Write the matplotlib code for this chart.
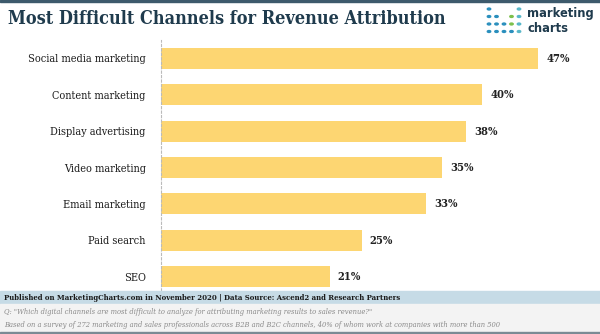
import matplotlib.pyplot as plt
from matplotlib.patches import Rectangle

# data
channels = ['Social media marketing', 'Content marketing', 'Display advertising',
            'Video marketing', 'Email marketing', 'Paid search', 'SEO']
shares = [47, 40, 38, 35, 33, 25, 21]

title_color = '#1f3b4d'
bar_color = '#fdd672'
serif = 'DejaVu Serif'

fig = plt.figure(figsize=(6, 3.34), dpi=100)
W, H = 600, 334

# top border
fig.patches.append(Rectangle((0, 1 - 2 / H), 1, 2 / H, transform=fig.transFigure,
                             color='#3d5a6c', zorder=0))

fig.text(8 / W, 1 - 19 / H, 'Most Difficult Channels for Revenue Attribution',
         fontsize=13, fontweight='bold', family=serif, stretch='condensed',
         color=title_color, va='center', ha='left')

# logo
dot_cols = [['#2a8fbd', None, None, None, '#58b7c9'],
            ['#2a8fbd', '#2a8fbd', None, '#7cc04b', '#58b7c9'],
            ['#2a8fbd', '#2a8fbd', '#2a8fbd', '#7cc04b', '#58b7c9'],
            ['#2a8fbd', '#2a8fbd', '#2a8fbd', '#2a8fbd', '#58b7c9']]
for r, row in enumerate(dot_cols):
    for c, col in enumerate(row):
        if col:
            fig.patches.append(plt.Circle(((489 + c * 7.5) / W, 1 - (9 + r * 7.5) / H), 1.7 / W,
                                          transform=fig.transFigure, color=col))
fig.text(527 / W, 1 - 14 / H, 'marketing', fontsize=8.3, fontweight='bold',
         color=title_color, va='center', ha='left')
fig.text(527 / W, 1 - 28 / H, 'charts', fontsize=8.3, fontweight='bold',
         color=title_color, va='center', ha='left')

# bars
ax = fig.add_axes([161 / W, 1 - 295 / H, 432 / W, (295 - 40) / H])
y = list(range(len(channels)))
ax.barh(y, shares, height=0.58, color=bar_color, zorder=2)
for yi, v in zip(y, shares):
    ax.text(v + 1.0, yi, f'{v}%', va='center', ha='left', fontsize=8,
            fontweight='bold', family=serif, stretch='condensed', color='#222222')
ax.set_xlim(0, 53.8)
ax.set_ylim(len(channels) - 0.5, -0.5)
ax.set_yticks(y)
ax.set_yticklabels(channels, family=serif, fontsize=7.8, stretch='condensed', color='#1a1a1a')
ax.tick_params(axis='y', length=0, pad=11)
ax.set_xticks([])
for s in ['top', 'right', 'bottom']:
    ax.spines[s].set_visible(False)
ax.spines['left'].set_linestyle((0, (2, 2)))
ax.spines['left'].set_color('#bbbbbb')
ax.spines['left'].set_linewidth(0.8)

# footer
fig.patches.append(Rectangle((0, 1 - 304 / H), 1, 13 / H, transform=fig.transFigure,
                             color='#c6dbe6', zorder=0))
fig.patches.append(Rectangle((0, 0), 1, 30 / H, transform=fig.transFigure,
                             color='#f3f3f3', zorder=0))
fig.patches.append(Rectangle((0, 0), 1, 2 / H, transform=fig.transFigure,
                             color='#7a8a94', zorder=1))
fig.text(4 / W, 1 - 297.5 / H,
         'Published on MarketingCharts.com in November 2020 | Data Source: Ascend2 and Research Partners',
         fontsize=5.6, fontweight='bold', family=serif, stretch='condensed', color='#1a1a1a',
         va='center', ha='left')
fig.text(4 / W, 1 - 312 / H,
         'Q: "Which digital channels are most difficult to analyze for attributing marketing results to sales revenue?"',
         fontsize=5.4, style='italic', family=serif, stretch='condensed', color='#8a8a8a',
         va='center', ha='left')
fig.text(4 / W, 1 - 325 / H,
         'Based on a survey of 272 marketing and sales professionals across B2B and B2C channels, 40% of whom work at companies with more than 500',
         fontsize=5.4, style='italic', family=serif, stretch='condensed', color='#8a8a8a',
         va='center', ha='left')

fig.savefig('out.png', dpi=100)
